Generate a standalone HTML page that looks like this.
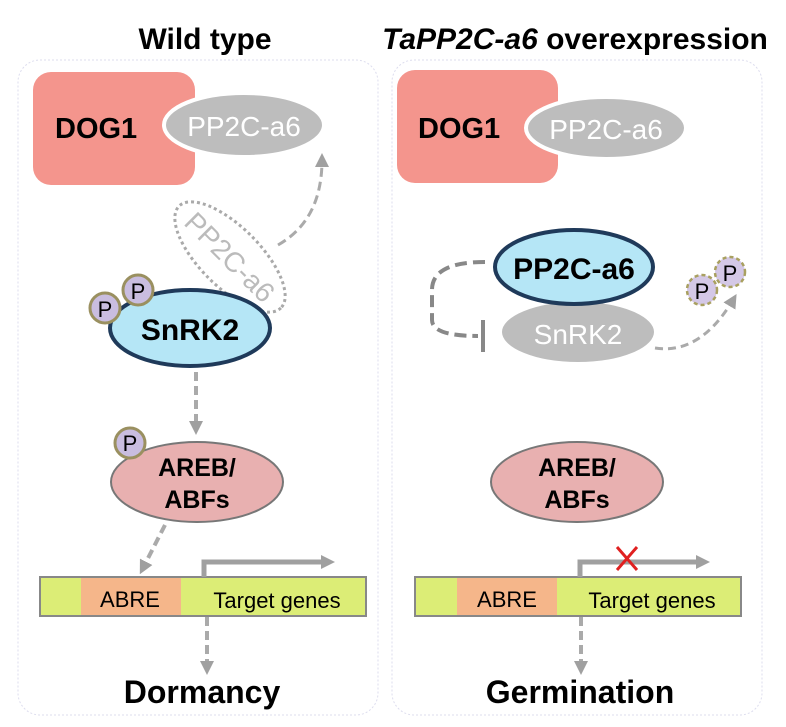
<!DOCTYPE html><html><head><style>body{margin:0;background:#fff}svg{display:block}text{font-family:"Liberation Sans",sans-serif;font-weight:bold}.n{font-weight:normal}</style></head><body>
<svg width="786" height="727" viewBox="0 0 786 727">
<defs>
<marker id="b" markerWidth="14" markerHeight="14" refX="7" refY="7" orient="auto" markerUnits="userSpaceOnUse"><path d="M0,0L14,7L0,14z" fill="#a0a0a0"/></marker></defs>
<text x="205" y="49" font-size="30" text-anchor="middle">Wild type</text>
<text x="575" y="49" font-size="30" text-anchor="middle"><tspan font-style="italic">TaPP2C-a6</tspan> overexpression</text>
<rect x="18" y="60" width="360" height="655" rx="22" fill="#fff" stroke="#dde" stroke-dasharray="2 2"/>
<rect x="392" y="60" width="370" height="655" rx="22" fill="#fff" stroke="#dde" stroke-dasharray="2 2"/>
<!-- left -->
<rect x="33" y="72" width="162" height="113" rx="18" fill="#f4958d"/>
<text x="55" y="138" font-size="29">DOG1</text>
<ellipse cx="244" cy="125" rx="80" ry="32" fill="#bdbdbd" stroke="#fff" stroke-width="4"/>
<text x="244" y="136" font-size="28" fill="#fff" text-anchor="middle" class="n">PP2C-a6</text>
<path d="M278,245 Q322,220 322,160" fill="none" stroke="#aaa" stroke-width="3" stroke-dasharray="9 5" marker-end="url(#b)"/>
<g transform="rotate(45 230 257)"><ellipse cx="230" cy="257" rx="72" ry="30" fill="#fff" stroke="#aaa" stroke-width="3" stroke-dasharray="3 3"/><text x="230" y="267" font-size="28" fill="#bbb" text-anchor="middle" class="n">PP2C-a6</text></g>
<ellipse cx="190" cy="328" rx="80" ry="38" fill="#b5e6f6" stroke="#1f3a5a" stroke-width="4"/>
<text x="190" y="340" font-size="30" text-anchor="middle">SnRK2</text>
<circle cx="105" cy="308" r="15" fill="#c9bde0" stroke="#9a9060" stroke-width="3"/><text x="105" y="317" font-size="22" text-anchor="middle" class="n">P</text>
<circle cx="138" cy="290" r="15" fill="#c9bde0" stroke="#9a9060" stroke-width="3"/><text x="138" y="299" font-size="22" text-anchor="middle" class="n">P</text>
<line x1="196" y1="372" x2="196" y2="428" stroke="#aaa" stroke-width="4" stroke-dasharray="9 5" marker-end="url(#b)"/>
<ellipse cx="197" cy="482" rx="86" ry="40" fill="#e8b0b0" stroke="#777" stroke-width="2"/>
<text x="197" y="476" font-size="25" text-anchor="middle">AREB/</text>
<text x="197" y="508" font-size="25" text-anchor="middle">ABFs</text>
<circle cx="130" cy="443" r="15" fill="#c9bde0" stroke="#9a9060" stroke-width="3"/><text x="130" y="451" font-size="22" text-anchor="middle" class="n">P</text>
<line x1="165" y1="525" x2="143" y2="568" stroke="#aaa" stroke-width="4" stroke-dasharray="9 5" marker-end="url(#b)"/>
<rect x="40" y="577" width="326" height="39" fill="#dced76" stroke="#888" stroke-width="2"/>
<rect x="81" y="578" width="100" height="37" fill="#f5b68a"/>
<text x="130" y="607" font-size="22" text-anchor="middle" class="n">ABRE</text>
<text x="277" y="608" font-size="22" text-anchor="middle" class="n">Target genes</text>
<path d="M204,577 V562 H328" fill="none" stroke="#a0a0a0" stroke-width="5" marker-end="url(#b)"/>
<line x1="207" y1="617" x2="207" y2="668" stroke="#aaa" stroke-width="4" stroke-dasharray="9 5" marker-end="url(#b)"/>
<text x="202" y="703" font-size="32" text-anchor="middle">Dormancy</text>
<!-- right -->
<rect x="397" y="70" width="161" height="113" rx="18" fill="#f4958d"/>
<text x="418" y="138" font-size="29">DOG1</text>
<ellipse cx="606" cy="128" rx="80" ry="31" fill="#bdbdbd" stroke="#fff" stroke-width="4"/>
<text x="606" y="139" font-size="28" fill="#fff" text-anchor="middle" class="n">PP2C-a6</text>
<ellipse cx="578" cy="332" rx="78" ry="32" fill="#bdbdbd" stroke="#fff" stroke-width="4"/>
<text x="578" y="344" font-size="28" fill="#fff" text-anchor="middle" class="n">SnRK2</text>
<ellipse cx="574" cy="267" rx="79" ry="37" fill="#b5e6f6" stroke="#1f3a5a" stroke-width="4"/>
<text x="574" y="279" font-size="30" text-anchor="middle">PP2C-a6</text>
<path d="M485,262 Q432,262 432,290 V320 Q432,336 478,336" fill="none" stroke="#888" stroke-width="4" stroke-dasharray="12 6"/>
<line x1="483" y1="320" x2="483" y2="352" stroke="#888" stroke-width="4"/>
<path d="M655,348 Q700,355 733,300" fill="none" stroke="#aaa" stroke-width="3" stroke-dasharray="8 5" marker-end="url(#b)"/>
<circle cx="702" cy="290" r="15" fill="#d4c8e6" stroke="#a9a060" stroke-width="2.5" stroke-dasharray="4 3"/><text x="702" y="299" font-size="22" text-anchor="middle" class="n">P</text>
<circle cx="730" cy="272" r="15" fill="#d4c8e6" stroke="#a9a060" stroke-width="2.5" stroke-dasharray="4 3"/><text x="730" y="281" font-size="22" text-anchor="middle" class="n">P</text>
<ellipse cx="577" cy="482" rx="86" ry="40" fill="#e8b0b0" stroke="#777" stroke-width="2"/>
<text x="577" y="476" font-size="25" text-anchor="middle">AREB/</text>
<text x="577" y="508" font-size="25" text-anchor="middle">ABFs</text>
<rect x="415" y="577" width="326" height="39" fill="#dced76" stroke="#888" stroke-width="2"/>
<rect x="457" y="578" width="100" height="37" fill="#f5b68a"/>
<text x="507" y="607" font-size="22" text-anchor="middle" class="n">ABRE</text>
<text x="652" y="608" font-size="22" text-anchor="middle" class="n">Target genes</text>
<path d="M580,577 V562 H703" fill="none" stroke="#a0a0a0" stroke-width="5" marker-end="url(#b)"/>
<path d="M617,547 L637,570 M637,547 L617,570" stroke="#e02020" stroke-width="3"/>
<line x1="581" y1="617" x2="581" y2="668" stroke="#aaa" stroke-width="4" stroke-dasharray="9 5" marker-end="url(#b)"/>
<text x="580" y="703" font-size="32" text-anchor="middle">Germination</text>
</svg></body></html>
